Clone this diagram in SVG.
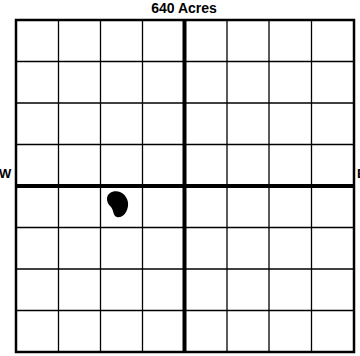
<svg xmlns="http://www.w3.org/2000/svg" width="360" height="356" viewBox="0 0 360 356">
<style>
.thin{stroke:#000;stroke-width:1.3;fill:none}
.thick{stroke:#000;stroke-width:4;fill:none}
.border{stroke:#000;stroke-width:2.5;fill:none}
text{font-family:"Liberation Sans",Arial,sans-serif;font-weight:bold;fill:#000}
</style>
<rect width="360" height="356" fill="#fff"/>
<g id="grid">
<g class="thin">
<line x1="58.5" y1="20" x2="58.5" y2="352"/>
<line x1="100.5" y1="20" x2="100.5" y2="352"/>
<line x1="142.5" y1="20" x2="142.5" y2="352"/>
<line x1="227" y1="20" x2="227" y2="352"/>
<line x1="269" y1="20" x2="269" y2="352"/>
<line x1="311.5" y1="20" x2="311.5" y2="352"/>
<line x1="16" y1="61.5" x2="354" y2="61.5"/>
<line x1="16" y1="103" x2="354" y2="103"/>
<line x1="16" y1="144.5" x2="354" y2="144.5"/>
<line x1="16" y1="227.5" x2="354" y2="227.5"/>
<line x1="16" y1="269" x2="354" y2="269"/>
<line x1="16" y1="310.5" x2="354" y2="310.5"/>
</g>
<rect class="border" x="16" y="20" width="338" height="332"/>
<line class="thick" x1="184.5" y1="20" x2="184.5" y2="352"/>
<line class="thick" x1="15" y1="186" x2="355" y2="186"/>
</g>
<path id="blob" d="M107,199 C107,192 115,190 120,192 C127,195 130,203 127,210 C125,215 121,218 117,217 C113,216 114,211 111,207 C108,204 107,202 107,199 Z" fill="#000"/>
<text x="184" y="13" font-size="14" text-anchor="middle">640 Acres</text>
<text x="-1" y="178" font-size="13">W</text>
<text x="357" y="178" font-size="13">E</text>
</svg>
